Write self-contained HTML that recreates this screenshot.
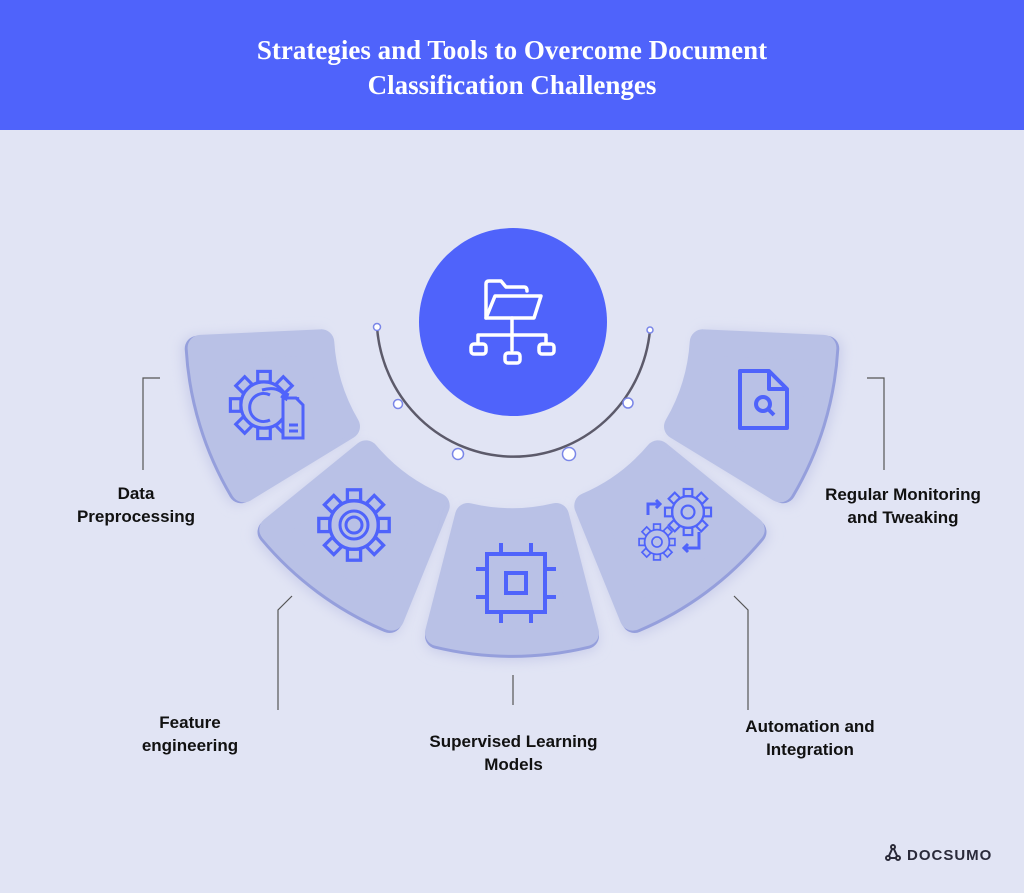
<!DOCTYPE html>
<html><head><meta charset="utf-8"><style>
html,body{margin:0;padding:0}
body{width:1024px;height:893px;background:#e1e4f4;overflow:hidden;position:relative;font-family:"Liberation Sans",sans-serif}
.hdr{position:absolute;left:0;top:0;width:1024px;height:130px;background:#4f63fb;color:#fff;text-align:center;font-family:"Liberation Serif",serif;font-weight:bold;font-size:27px;line-height:35px;padding-top:33px;box-sizing:border-box}
.lbl{position:absolute;font-weight:bold;font-size:17px;line-height:23px;color:#111;text-align:center}
</style></head><body>
<div class="hdr">Strategies and Tools to Overcome Document<br>Classification Challenges</div>
<svg width="1024" height="893" style="position:absolute;left:0;top:0">
<defs>
<path id="seg" d="M468,516 A190,190 0 0 0 556,516 L586,633 A313,313 0 0 1 438,633 Z" stroke-linejoin="round" stroke-width="26"/>
<g id="gear" fill="none" stroke="#4f63fb" stroke-width="3">
<circle r="22"/>
<rect x="-6" y="-32" width="12" height="10"/><rect x="-6" y="-32" width="12" height="10" transform="rotate(45)"/><rect x="-6" y="-32" width="12" height="10" transform="rotate(90)"/><rect x="-6" y="-32" width="12" height="10" transform="rotate(135)"/><rect x="-6" y="-32" width="12" height="10" transform="rotate(180)"/><rect x="-6" y="-32" width="12" height="10" transform="rotate(225)"/><rect x="-6" y="-32" width="12" height="10" transform="rotate(270)"/><rect x="-6" y="-32" width="12" height="10" transform="rotate(315)"/>
</g>
<filter id="sh" x="-20%" y="-20%" width="140%" height="140%"><feGaussianBlur stdDeviation="6"/></filter>
<g id="segfull"><use href="#seg" fill="#c9cdea" stroke="#c9cdea" filter="url(#sh)" transform="translate(0,6)"/><use href="#seg" fill="#959fdc" stroke="#959fdc" transform="translate(0,3)"/><use href="#seg" fill="#b9c1e6" stroke="#b9c1e6"/></g>
</defs>
<g transform="rotate(73 512 330)"><use href="#segfull"/></g>
<g transform="rotate(36.5 512 330)"><use href="#segfull"/></g>
<use href="#segfull"/>
<g transform="rotate(-36.5 512 330)"><use href="#segfull"/></g>
<g transform="rotate(-73 512 330)"><use href="#segfull"/></g>
<path d="M377,327 A137,140 0 0 0 650,330" fill="none" stroke="#5c5a6a" stroke-width="2.5"/>
<g fill="#fff" stroke="#7a86e8" stroke-width="1.5">
<circle cx="377" cy="327" r="3.5"/><circle cx="650" cy="330" r="3"/>
<circle cx="398" cy="404" r="4.5"/><circle cx="458" cy="454" r="5.5"/><circle cx="569" cy="454" r="6.5"/><circle cx="628" cy="403" r="5"/>
</g>
<circle cx="513" cy="322" r="94" fill="#4f63fb"/>
<g fill="none" stroke="#fff" stroke-width="3.5" stroke-linejoin="round" stroke-linecap="round">
<path d="M486,318 V284 Q486,281 489,281 H501 L506,287 H524 Q527,287 527,291"/>
<path d="M486,318 L495,296 H541 L534,318 Z"/>
<path d="M512,318 V350 M478,335 H546 M478,335 V343 M546,335 V343"/>
<rect x="471" y="344" width="15" height="10" rx="3"/><rect x="505" y="353" width="15" height="10" rx="3"/><rect x="539" y="344" width="15" height="10" rx="3"/>
</g>
<g fill="none" stroke="#4f63fb" stroke-width="3">
<g transform="translate(264,405) scale(1.05)"><use href="#gear"/></g>
<path d="M283,420 V398 H296 L303,405 V438 H283 Z M289,425 H298 M289,431 H298" stroke="#4f63fb" fill="#b9c1e6"/>
<path d="M270,395 A14,14 0 1 0 270,420"/><path d="M262,390 Q280,385 286,398 M281,396 l5,3 l2,-6"/>
<g transform="translate(354,525) scale(1.1)"><use href="#gear"/></g>
<circle cx="354" cy="525" r="14"/><circle cx="354" cy="525" r="8"/>
<rect x="487" y="554" width="58" height="58" stroke-width="4"/>
<rect x="506" y="573" width="20" height="20" stroke-width="4"/>
<path d="M501,543 V554 M531,543 V554 M501,612 V623 M531,612 V623 M476,569 H487 M476,597 H487 M545,569 H556 M545,597 H556" stroke-width="4"/>
<g transform="translate(688,512) scale(0.72)"><use href="#gear"/><circle r="9"/></g>
<g transform="translate(657,542) scale(0.56)"><use href="#gear"/><circle r="9"/></g>
<path d="M648,515 V504 H660 M656,500 l4,4 l-4,4 M699,532 V548 H684 M688,544 l-4,4 l4,4"/>
<path d="M740,371 H769 L787,389 V428 H740 Z M769,371 V389 H787" stroke-width="4" stroke-linejoin="round"/>
<circle cx="763" cy="404" r="7" stroke-width="4"/><path d="M768,409 L774,415" stroke-width="4"/>
</g>
<g fill="none" stroke="#555" stroke-width="1.2">
<path d="M160,378 H143 V470"/>
<path d="M292,596 L278,610 V710"/>
<path d="M513,675 V705"/>
<path d="M734,596 L748,610 V710"/>
<path d="M867,378 H884 V470"/>
</g>
<g fill="none" stroke="#2a2a3a" stroke-width="2"><path d="M893,847 L888,858 M893,847 L898,858 M888,858 H898"/><circle cx="893" cy="847" r="2" fill="#fff"/><circle cx="888" cy="858" r="2" fill="#fff"/><circle cx="898" cy="858" r="2" fill="#fff"/></g>
<text x="907" y="860" font-family="Liberation Sans" font-weight="bold" font-size="15" fill="#2a2a3a" letter-spacing="1">DOCSUMO</text>
</svg>
<div class="lbl" style="left:46px;top:482px;width:180px">Data<br>Preprocessing</div>
<div class="lbl" style="left:110px;top:711px;width:160px">Feature<br>engineering</div>
<div class="lbl" style="left:406px;top:730px;width:215px">Supervised Learning<br>Models</div>
<div class="lbl" style="left:715px;top:715px;width:190px">Automation and<br>Integration</div>
<div class="lbl" style="left:803px;top:483px;width:200px">Regular Monitoring<br>and Tweaking</div>
</body></html>
